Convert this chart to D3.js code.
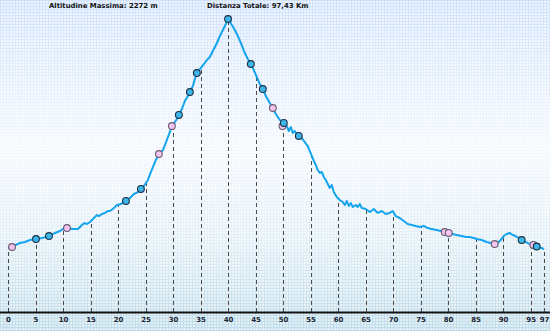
<!DOCTYPE html>
<html>
<head>
<meta charset="utf-8">
<script src="https://cdn.jsdelivr.net/npm/d3@7"></script>
<style>
  html, body { margin: 0; padding: 0; background: #fff; }
  svg { display: block; }
</style>
</head>
<body>
<svg id="chart" width="550" height="331"></svg>
<script>
// Route profile: distance (km) and altitude (m)
const profileKm = [
  0.0, 0.73, 1.45, 2.18, 3.09, 4.0, 5.09, 6.18, 6.9, 7.45, 8.54, 9.45, 9.99, 10.72, 11.63, 12.72,
  13.44, 13.99, 14.35, 14.9, 15.44, 16.17, 16.53, 17.08, 17.62, 18.17, 18.53, 19.26, 19.8, 20.53,
  21.44, 22.16, 22.89, 23.61, 24.16, 24.7, 25.43, 25.98, 26.34, 26.88, 27.43, 28.16, 28.52, 28.88,
  29.43, 29.79, 30.34, 30.7, 31.06, 31.61, 32.15, 32.7, 33.06, 33.61, 33.97, 34.33, 34.88, 35.6,
  36.15, 36.69, 37.24, 37.97, 38.51, 39.06, 39.6, 40.0, 40.69, 41.24, 41.78, 42.33, 43.05, 43.6,
  44.14, 44.69, 45.23, 45.78, 46.32, 46.87, 47.59, 48.14, 48.68, 49.41, 50.14, 50.68, 51.04, 51.41,
  51.77, 52.13, 52.5, 52.86, 53.41, 53.95, 54.5, 54.86, 55.22, 55.59, 55.95, 56.31, 56.68, 57.04,
  57.4, 57.77, 58.13, 58.49, 58.86, 59.22, 59.76, 60.31, 60.85, 61.22, 61.58, 61.94, 62.31, 62.67,
  63.22, 63.58, 63.94, 64.31, 65.03, 65.76, 66.49, 67.21, 67.94, 68.66, 69.39, 69.94, 70.48, 71.21,
  71.93, 72.66, 73.39, 74.11, 74.84, 75.57, 76.29, 77.02, 77.93, 78.66, 79.38, 80.11, 80.84, 81.56,
  82.47, 83.2, 83.92, 84.65, 85.2, 86.1, 87.01, 87.74, 88.47, 89.01, 89.56, 90.1, 90.65, 91.19,
  91.74, 92.28, 92.83, 93.37, 94.1, 94.83, 95.56, 96.29, 97.0, 97.43
];
const profileElev = [
  496, 504, 520, 535, 543, 558, 566, 574, 582, 589, 613, 628, 644, 651, 644, 644,
  675, 690, 682, 698, 721, 752, 744, 760, 768, 783, 783, 806, 830, 837,
  861, 884, 915, 930, 954, 977, 1024, 1086, 1124, 1179, 1225, 1256, 1295, 1334,
  1396, 1442, 1473, 1497, 1528, 1574, 1636, 1675, 1706, 1752, 1807, 1853, 1884, 1923,
  1954, 1977, 2024, 2086, 2140, 2187, 2233, 2272, 2225, 2187, 2140, 2086, 2008, 1962,
  1923, 1876, 1822, 1768, 1729, 1675, 1621, 1582, 1535, 1489, 1466, 1442, 1403, 1434,
  1388, 1403, 1380, 1365, 1349, 1318, 1287, 1248, 1210, 1171, 1140, 1101, 1078, 1086,
  1047, 1024, 993, 962, 985, 930, 892, 868, 853, 830, 861, 822, 845, 814,
  830, 814, 837, 806, 799, 775, 799, 768, 783, 760, 768, 783, 744, 729,
  706, 682, 675, 667, 659, 667, 651, 644, 636, 628, 620, 613, 605, 597,
  589, 582, 582, 574, 566, 558, 543, 535, 527, 535, 558, 589, 605, 613,
  597, 589, 574, 558, 543, 527, 520, 504, 496, 488
];

// Waypoints along the route
const markerKm   = [0.73, 5.09, 7.45, 10.72, 21.44, 24.16, 27.43, 29.79, 31.06, 33.06, 34.33, 40.0,
                    44.14, 46.32, 48.14, 49.9, 50.14, 52.86, 79.38, 80.11, 88.47, 93.37, 95.5, 96.1];
const markerElev = [504, 566, 589, 651, 861, 954, 1225, 1442, 1528, 1706, 1853, 2272,
                    1923, 1729, 1582, 1442, 1466, 1365, 620, 613, 527, 558, 520, 508];
const markerKind = ["p", "b", "b", "p", "b", "b", "p", "p", "b", "b", "b", "b",
                    "b", "b", "p", "p", "b", "b", "p", "p", "p", "b", "p", "b"];

// Distance axis
const tickKm     = [0, 5, 10, 15, 20, 25, 30, 35, 40, 45, 50, 55, 60, 65, 70, 75, 80, 85, 90, 95, 97.43];
const tickLabels = ["0", "5", "10", "15", "20", "25", "30", "35", "40", "45", "50", "55", "60", "65",
                    "70", "75", "80", "85", "90", "95", "97"];

const titles = ["Altitudine Massima: 2272 m", "Distanza Totale: 97,43 Km"];

const W = 550, H = 331;
const svg = d3.select("#chart");
const defs = svg.append("defs");

// Background: soft vertical gradient with a fine grid on top
const bg = defs.append("linearGradient").attr("id", "bgGrad")
  .attr("x1", 0).attr("y1", 0).attr("x2", 0).attr("y2", 1);
bg.append("stop").attr("offset", "0%").attr("stop-color", "#edf4ff");
bg.append("stop").attr("offset", "45%").attr("stop-color", "#fbfdff");
bg.append("stop").attr("offset", "70%").attr("stop-color", "#f4f9fc");
bg.append("stop").attr("offset", "100%").attr("stop-color", "#e2f0f6");

const gw = defs.append("pattern").attr("id", "gridWhite")
  .attr("width", 3).attr("height", 3).attr("patternUnits", "userSpaceOnUse");
gw.append("rect").attr("width", 3).attr("height", 1).attr("fill", "#fff");
gw.append("rect").attr("width", 1).attr("height", 3).attr("fill", "#fff");

const gridFade = defs.append("linearGradient").attr("id", "gridFade")
  .attr("x1", 0).attr("y1", 0).attr("x2", 0).attr("y2", 1);
gridFade.append("stop").attr("offset", "0%").attr("stop-color", "#b4d0f7").attr("stop-opacity", 0.5);
gridFade.append("stop").attr("offset", "45%").attr("stop-color", "#cfe1f7").attr("stop-opacity", 0.14);
gridFade.append("stop").attr("offset", "75%").attr("stop-color", "#b8d7ea").attr("stop-opacity", 0.3);
gridFade.append("stop").attr("offset", "100%").attr("stop-color", "#a4cbe0").attr("stop-opacity", 0.55);

const gridMask = defs.append("mask").attr("id", "gridMask");
gridMask.append("rect").attr("width", W).attr("height", H).attr("fill", "url(#gridWhite)");

svg.append("rect").attr("width", W).attr("height", H).attr("fill", "url(#bgGrad)");
svg.append("rect").attr("width", W).attr("height", H).attr("fill", "url(#gridFade)")
  .attr("mask", "url(#gridMask)");

// Scales
const x = d3.scaleLinear().domain([0, 97.43]).range([8, 544]);
const y = d3.scaleLinear().domain([0, 2272]).range([312, 19]);

const profile = profileKm.map((k, i) => ({ km: k, elev: profileElev[i] }));
const bisect = d3.bisector(d => d.km).left;
function elevAt(k) {
  const i = Math.min(Math.max(bisect(profile, k), 1), profile.length - 1);
  const a = profile[i - 1], b = profile[i];
  const t = (k - a.km) / (b.km - a.km);
  return a.elev + (b.elev - a.elev) * Math.max(0, Math.min(1, t));
}

// Dashed drop lines from the axis up to the profile
svg.append("g").selectAll("line").data(tickKm).join("line")
  .attr("x1", d => Math.round(x(d)) + 0.5).attr("x2", d => Math.round(x(d)) + 0.5)
  .attr("y1", y(0)).attr("y2", d => y(elevAt(d)))
  .attr("stroke", "#4a4a4a").attr("stroke-width", 1).attr("stroke-dasharray", "4,3");

// Profile line
const line = d3.line().x(d => x(d.km)).y(d => y(d.elev)).curve(d3.curveLinear);
svg.append("path").datum(profile)
  .attr("d", line).attr("fill", "none")
  .attr("stroke", "#15a4ee").attr("stroke-width", 2).attr("stroke-linejoin", "round");

// Waypoint markers
const markers = markerKm.map((k, i) => ({ km: k, elev: markerElev[i], kind: markerKind[i] }));
svg.append("g").selectAll("circle").data(markers).join("circle")
  .attr("cx", d => x(d.km)).attr("cy", d => y(d.elev)).attr("r", 3.4)
  .attr("fill", d => d.kind === "p" ? "#f2c4ee" : "#3db6ea")
  .attr("stroke", d => d.kind === "p" ? "#6a5a70" : "#1d3146").attr("stroke-width", 1.1);

// Distance axis
const axis = d3.axisBottom(x).tickValues(tickKm)
  .tickFormat((d, i) => tickLabels[i]).tickSize(0).tickPadding(5);
const gAxis = svg.append("g").attr("transform", `translate(0,${y(0)})`).call(axis);
gAxis.select(".domain").remove();
svg.append("line").attr("x1", 0).attr("x2", W).attr("y1", y(0) + 0.5).attr("y2", y(0) + 0.5)
  .attr("stroke", "#111").attr("stroke-width", 2);
gAxis.selectAll("text")
  .attr("font-family", "'DejaVu Sans', Verdana, sans-serif")
  .attr("font-size", 7).attr("font-weight", "bold").attr("fill", "#1b2535");

// Header
svg.append("g").selectAll("text").data(titles).join("text")
  .attr("x", (d, i) => i === 0 ? 49 : 207).attr("y", 8)
  .attr("font-family", "'DejaVu Sans', Verdana, sans-serif")
  .attr("font-size", 6.9).attr("font-weight", "bold").attr("fill", "#111")
  .text(d => d);
</script>
</body>
</html>
